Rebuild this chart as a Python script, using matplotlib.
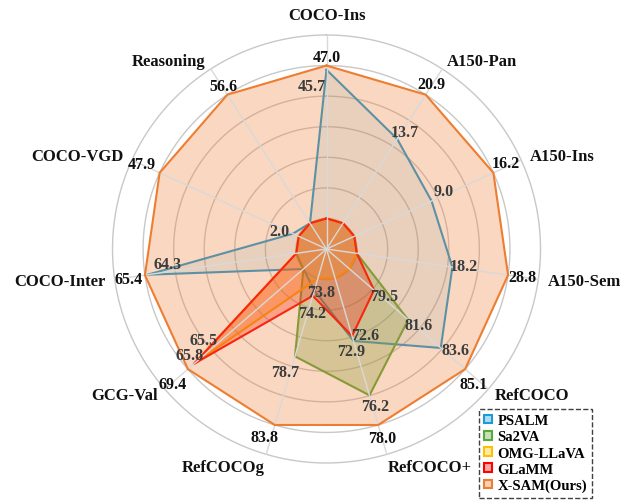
import numpy as np
import matplotlib.pyplot as plt
from matplotlib.patches import Patch

plt.rcParams['font.family'] = ['Liberation Serif', 'DejaVu Serif']
plt.rcParams['font.weight'] = 'bold'

# benchmarks, clockwise from the top
benchmarks = ['COCO-Ins', 'A150-Pan', 'A150-Ins', 'A150-Sem', 'RefCOCO', 'RefCOCO+',
              'RefCOCOg', 'GCG-Val', 'COCO-Inter', 'COCO-VGD', 'Reasoning']

# scores per method (0 = not reported)
psalm = [45.7, 13.7, 9.0, 18.2, 83.6, 72.9, 73.8, 0.0, 64.3, 2.0, 0.0]
sa2va = [0.0, 0.0, 0.0, 0.0, 81.6, 76.2, 78.7, 0.0, 0.0, 0.0, 0.0]
omg_llava = [0.0, 0.0, 0.0, 0.0, 78.0, 69.1, 72.9, 65.5, 0.0, 0.0, 0.0]
glamm = [0.0, 0.0, 0.0, 0.0, 79.5, 72.6, 74.2, 65.8, 0.0, 0.0, 0.0]
xsam = [47.0, 20.9, 16.2, 28.8, 85.1, 78.0, 83.8, 69.4, 65.4, 47.9, 56.6]

method_names = ['PSALM', 'Sa2VA', 'OMG-LLaVA', 'GLaMM', 'X-SAM(Ours)']
method_scores = [psalm, sa2va, omg_llava, glamm, xsam]
method_colors = ['#1E9BD7', '#5AA83A', '#FFC000', '#FF0000', '#ED7D31']
fill_alpha = [0.10, 0.30, 0.30, 0.30, 0.30]

# value label offsets (pixels) so the numbers do not collide
label_offsets = {
    ('PSALM', 0): (-15, -16), ('PSALM', 1): (8, 7), ('PSALM', 2): (12, 10),
    ('PSALM', 3): (11, 1), ('PSALM', 4): (15, -2), ('PSALM', 5): (-2, -10),
    ('PSALM', 6): (7, -2), ('PSALM', 8): (20, 11), ('PSALM', 9): (-13, 3),
    ('Sa2VA', 4): (10, -5), ('Sa2VA', 5): (6, -11), ('Sa2VA', 6): (-10, -16),
    ('OMG-LLaVA', 7): (9, 23),
    ('GLaMM', 4): (10, -6), ('GLaMM', 5): (13, 1), ('GLaMM', 6): (-1, -17),
    ('GLaMM', 7): (-4, 9),
    ('X-SAM(Ours)', 0): (0, 9), ('X-SAM(Ours)', 1): (6, 11), ('X-SAM(Ours)', 2): (12, 10),
    ('X-SAM(Ours)', 3): (14, -2), ('X-SAM(Ours)', 4): (8, -15), ('X-SAM(Ours)', 5): (4, -13),
    ('X-SAM(Ours)', 6): (-10, -12), ('X-SAM(Ours)', 7): (-15, -15), ('X-SAM(Ours)', 8): (-16, -4),
    ('X-SAM(Ours)', 9): (-18, 9), ('X-SAM(Ours)', 10): (-4, 9),
}

n = len(benchmarks)
angles = np.arange(n) * 2 * np.pi / n
all_scores = np.array(method_scores)
lo = all_scores.min(axis=0)
hi = np.array(xsam)


def to_radius(vals):
    # each axis is scaled from its lowest score (ring 1) to the best score (ring 6)
    return 1 + 5 * (np.asarray(vals) - lo) / (hi - lo)


fig = plt.figure(figsize=(6.23, 5.02), dpi=100)
ax = fig.add_axes([0.1806, 0.0757, 0.687, 0.8526], projection='polar')
ax.set_theta_zero_location('N')
ax.set_theta_direction(-1)
ax.set_ylim(0, 7)
ax.axis('off')

# rings
circ = np.linspace(0, 2 * np.pi, 400)
for k in range(1, 8):
    ax.plot(circ, np.full_like(circ, k), color='#c8c8c8', lw=1, zorder=0.5, clip_on=False)

closed = np.append(angles, angles[0])
for i, (name, scores, col, a) in enumerate(zip(method_names, method_scores, method_colors, fill_alpha)):
    r = to_radius(scores)
    rc = np.append(r, r[0])
    if name == 'X-SAM(Ours)':
        ax.fill(closed, rc, color=col, alpha=a, lw=0, zorder=3)
        ax.plot(closed, rc, color=col, lw=1.5, zorder=5)
    else:
        ax.fill(closed, rc, color=col, alpha=a, lw=0, zorder=1 + i * 0.1)
        ax.plot(closed, rc, color=col, lw=1.5, zorder=1.05 + i * 0.1)
    txt_col = '#111111' if name == 'X-SAM(Ours)' else '#3c3c3c'
    for j in range(n):
        if scores[j] > lo[j]:
            ax.annotate(f'{scores[j]:.1f}', (angles[j], r[j]),
                        xytext=label_offsets.get((name, j), (0, 0)),
                        textcoords='offset pixels', ha='center', va='center',
                        fontsize=11.5, fontweight='bold', color=txt_col, zorder=6)

# spokes
for t in angles:
    ax.plot([t, t], [0, 7], color='#d9d9d9', lw=1, zorder=4, clip_on=False)

# benchmark names
for t, name in zip(angles, benchmarks):
    s, c = np.sin(t), np.cos(t)
    ha = 'left' if s > 0.1 else ('right' if s < -0.1 else 'center')
    rad = 7.3
    va = 'center'
    if c > 0.95:
        va, rad = 'bottom', 7.4
    elif c < -0.95:
        va, rad = 'top', 7.15
    ax.text(t, rad, name, ha=ha, va=va, fontsize=12, fontweight='bold', color='#111111')

handles = [Patch(facecolor=col, edgecolor=col, alpha=None, lw=1.5) for col in method_colors]
for h, col in zip(handles, method_colors):
    h.set_facecolor(plt.matplotlib.colors.to_rgba(col, 0.35))
    h.set_edgecolor(col)
leg = fig.legend(handles, method_names, loc='upper left', bbox_to_anchor=(0.7694, 0.1833),
                 prop={'family': 'Liberation Serif', 'weight': 'bold', 'size': 10.5},
                 handlelength=0.55, handleheight=0.55, handletextpad=0.35,
                 labelspacing=0.22, borderpad=0.35, borderaxespad=0,
                 fancybox=False, framealpha=1, edgecolor='#404040')
leg.get_frame().set_linestyle('--')
leg.get_frame().set_linewidth(1)

fig.savefig('out.png', dpi=100)
